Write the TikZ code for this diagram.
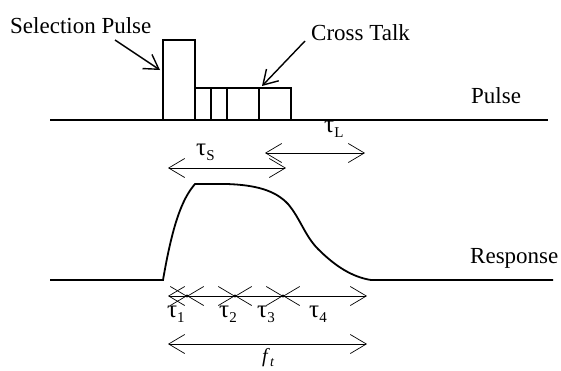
\documentclass[tikz,border=0pt]{standalone}
\usepackage{fontspec}
\setmainfont{Liberation Serif}
\usetikzlibrary{arrows.meta}
\newcommand\taulab[1]{{\fontsize{25}{28}\selectfont τ}\raisebox{-5pt}{\fontsize{15}{18}\selectfont #1}}
\begin{document}
\begin{tikzpicture}[x=1pt,y=-1pt,
  wave/.style={line width=1.8pt, line join=miter},
  dim/.style={line width=0.7pt, {Straight Barb[length=16pt,width=19pt]}-{Straight Barb[length=16pt,width=19pt]}},
  callout/.style={line width=1.4pt, -{Straight Barb[length=14pt,width=17pt]}},
  lbl/.style={inner sep=0pt, anchor=base west, font=\fontsize{23}{27}\selectfont},
  tlbl/.style={inner sep=0pt, anchor=base west}]
\useasboundingbox (0,0) rectangle (561,370);
% pulse
\draw[wave] (50,120) -- (548,120);
\draw[wave] (163,120) -- (163,40) -- (195,40) -- (195,88) -- (291,88) -- (291,120);
\draw[wave] (195,88) -- (195,120);
\foreach \x in {211,227,259} \draw[wave] (\x,88) -- (\x,120);
% labels
\node[lbl] (sel) at (10,33) {Selection Pulse};
\node[lbl] (ct) at (311,40) {Cross Talk};
\node[lbl] (pl) at (471,103) {Pulse};
\node[lbl] (rs) at (470,263) {Response};
\coordinate (selA) at (115,40);
\coordinate (selB) at (160,70);
\coordinate (ctA) at (305,41);
\coordinate (ctB) at (262,86);
\draw[callout] (selA) -- (selB);
\draw[callout] (ctA) -- (ctB);
% tau S, tau L
\coordinate (sA) at (168,168);
\coordinate (sB) at (286,168);
\coordinate (lA) at (265,153);
\coordinate (lB) at (365,153);
\draw[dim] (sA) -- (sB);
\draw[dim] (lA) -- (lB);
\node[tlbl] (ts) at (196,155) {\taulab{S}};
\node[tlbl] (tL) at (324,132) {\taulab{L}};
% response
\draw[wave] (50,280) -- (163,280) .. controls (172,228) and (181,200) .. (195,184) -- (227,184)
  .. controls (255,185) and (275,190) .. (288,204)
  .. controls (300,218) and (305,236) .. (318,249)
  .. controls (335,266) and (352,277) .. (371,280) -- (553,280);
% tau 1-4
\coordinate (t0) at (168,296);
\coordinate (t1) at (187,296);
\coordinate (t2) at (235,296);
\coordinate (t3) at (283,296);
\coordinate (t4) at (367,296);
\draw[dim] (t0) -- (t1);
\draw[dim] (t1) -- (t2);
\draw[dim] (t2) -- (t3);
\draw[dim] (t3) -- (t4);
\foreach \p in {t1,t2,t3} \fill (\p) circle (1.6pt);
\node[tlbl] (n1) at (167,317) {\taulab{1}};
\node[tlbl] (n2) at (219,317) {\taulab{2}};
\node[tlbl] (n3) at (257,317) {\taulab{3}};
\node[tlbl] (n4) at (309,317) {\taulab{4}};
% f_t
\coordinate (fA) at (168,344);
\coordinate (fB) at (367,344);
\draw[dim] (fA) -- (fB);
\node[tlbl] (ft) at (262,362) {\fontsize{20}{24}\selectfont\textit{f}\raisebox{-4pt}{\fontsize{14}{17}\selectfont\textit{t}}};
\end{tikzpicture}
\end{document}
